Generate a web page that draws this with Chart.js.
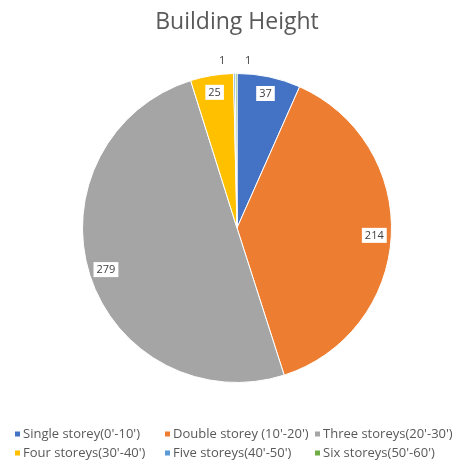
<!DOCTYPE html>
<html>
<head>
<meta charset="utf-8">
<script src="https://cdn.jsdelivr.net/npm/chart.js@4"></script>
<style>
  html, body { margin: 0; padding: 0; background: #fff; }
  #wrap { width: 458px; height: 461px; }
</style>
</head>
<body>
<div id="wrap"><canvas id="heightChart" width="458" height="461"></canvas></div>
<script>
const storeyLabels = [
    "Single storey(0'-10')",
    "Double storey (10'-20')",
    "Three storeys(20'-30')",
    "Four storeys(30'-40')",
    "Five storeys(40'-50')",
    "Six storeys(50'-60')"
];
const buildingCounts = [37, 214, 279, 25, 1, 1];
const sliceColors = ['#4472C4', '#ED7D31', '#A5A5A5', '#FFC000', '#5B9BD5', '#70AD47'];

const FONT = "'Open Sans', 'Liberation Sans', sans-serif";

// value boxes: white label inside the slice, tiny slices pushed outside
const valueLabels = {
    id: 'valueLabels',
    afterDatasetsDraw(chart) {
        const ctx = chart.ctx;
        const meta = chart.getDatasetMeta(0);
        const values = chart.data.datasets[0].data;
        ctx.save();
        ctx.font = '11px ' + FONT;
        ctx.textAlign = 'center';
        ctx.textBaseline = 'middle';
        let tinyIndex = 0;
        meta.data.forEach((arc, i) => {
            const { x, y, startAngle, endAngle, outerRadius } = arc.getProps(
                ['x', 'y', 'startAngle', 'endAngle', 'outerRadius'], true);
            const mid = (startAngle + endAngle) / 2;
            const text = String(values[i]);
            const small = (endAngle - startAngle) < 0.05;
            let r = small ? outerRadius + 13 : outerRadius * 0.89;
            let lx = x + Math.cos(mid) * r;
            let ly = y + Math.sin(mid) * r;
            if (small) {
                lx += tinyIndex === 0 ? -12 : 12;
                tinyIndex++;
            }
            const w = ctx.measureText(text).width + 6;
            const h = 15;
            if (!small) {
                ctx.fillStyle = '#fff';
                ctx.fillRect(lx - w / 2, ly - h / 2, w, h);
            }
            ctx.fillStyle = '#404040';
            ctx.fillText(text, lx, ly + 0.5);
        });
        ctx.restore();
    }
};

// three-column legend under the pie
const gridLegend = {
    id: 'gridLegend',
    afterDraw(chart) {
        const ctx = chart.ctx;
        const labels = chart.data.labels;
        const colors = chart.data.datasets[0].backgroundColor;
        ctx.save();
        ctx.font = '13px ' + FONT;
        ctx.textBaseline = 'middle';
        labels.forEach((label, i) => {
            const col = i % 3;
            const row = Math.floor(i / 3);
            const mx = 15 + col * 150;
            const my = 434 + row * 19;
            ctx.fillStyle = colors[i];
            ctx.fillRect(mx, my - 2.5, 5, 5);
            ctx.fillStyle = '#595959';
            ctx.fillText(label, mx + 8, my);
        });
        ctx.restore();
    }
};

new Chart(document.getElementById('heightChart'), {
    type: 'pie',
    data: {
        labels: storeyLabels,
        datasets: [{
            data: buildingCounts,
            backgroundColor: sliceColors,
            borderColor: '#fff',
            borderWidth: 1
        }]
    },
    options: {
        responsive: false,
        animation: false,
        layout: { padding: { left: 82, right: 66, top: 0, bottom: 78 } },
        plugins: {
            legend: { display: false },
            tooltip: { enabled: false },
            title: {
                display: true,
                text: 'Building Height',
                color: '#595959',
                font: { family: FONT, size: 23, weight: 'normal' },
                padding: { top: 9, bottom: 36.4 }
            }
        }
    },
    plugins: [valueLabels, gridLegend]
});
</script>
</body>
</html>
